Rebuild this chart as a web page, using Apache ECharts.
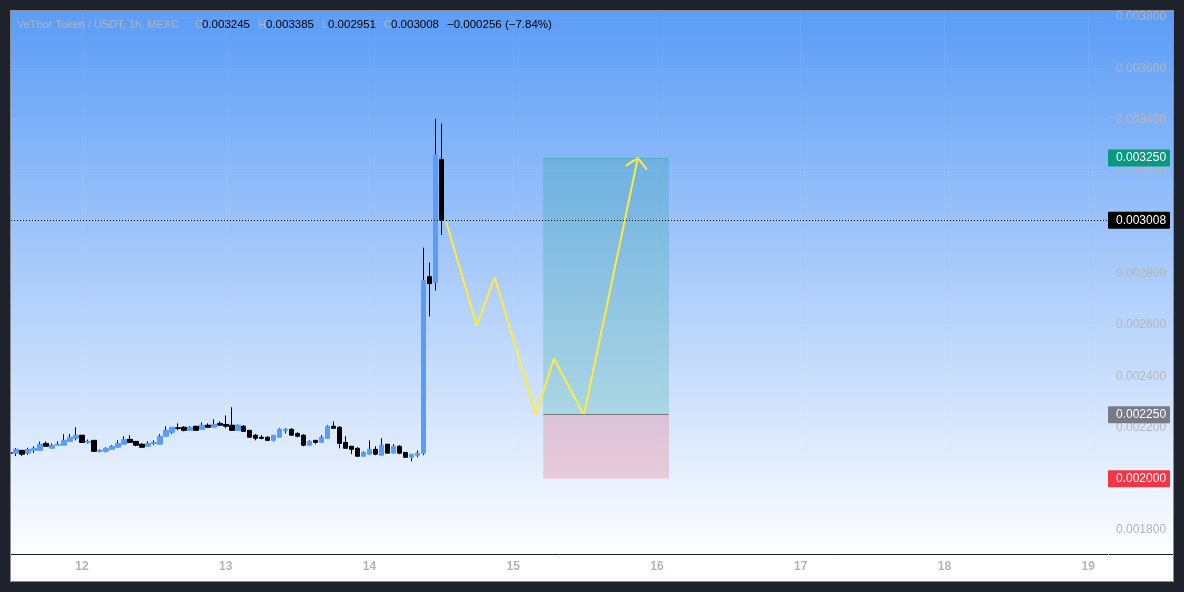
<!DOCTYPE html>
<html>
<head>
<meta charset="utf-8">
<title>VeThor Token / USDT</title>
<style>
    html, body { margin: 0; height: 100%; background: #1e222d; overflow: hidden; }
    #frame { position: absolute; left: 10px; top: 10px; width: 1162px; height: 570px; border: 1px solid #8b8e97; }
    #main { width: 1162px; height: 570px; }
</style>
<script src="https://cdn.jsdelivr.net/npm/echarts@6/dist/echarts.min.js"></script>
</head>
<body>
<div id="frame"><div id="main"></div></div>
<script>
// candles are hourly, hour 0 = start of day 12, first candle at -12
var firstHour = -12;
var opens = [0.002101,0.002100,0.002111,0.002100,0.002111,0.002111,0.002138,0.002119,0.002131,0.002131,0.002146,0.002158,
    0.002170,0.002142,0.002150,0.002107,0.002107,0.002115,0.002123,0.002135,0.002154,0.002146,0.002135,0.002127,
    0.002138,0.002135,0.002166,0.002181,0.002199,0.002201,0.002189,0.002205,0.002193,0.002209,0.002201,0.002216,
    0.002212,0.002209,0.002189,0.002205,0.002189,0.002170,0.002162,0.002162,0.002150,0.002162,0.002189,0.002193,
    0.002177,0.002170,0.002131,0.002150,0.002142,0.002158,0.002205,0.002201,0.002142,0.002127,0.002119,0.002088,
    0.002096,0.002115,0.002092,0.002135,0.002100,0.002127,0.002103,0.002084,0.002092,0.002100,0.002788,0.002765,0.003245];
var closes = [0.002100,0.002115,0.002096,0.002115,0.002119,0.002135,0.002127,0.002131,0.002135,0.002150,0.002162,0.002170,
    0.002142,0.002146,0.002107,0.002111,0.002119,0.002127,0.002138,0.002154,0.002142,0.002131,0.002123,0.002138,
    0.002142,0.002166,0.002189,0.002201,0.002196,0.002189,0.002201,0.002189,0.002209,0.002201,0.002212,0.002209,
    0.002205,0.002189,0.002209,0.002185,0.002162,0.002158,0.002158,0.002150,0.002170,0.002193,0.002193,0.002170,
    0.002166,0.002131,0.002146,0.002142,0.002162,0.002205,0.002197,0.002138,0.002119,0.002115,0.002088,0.002103,
    0.002115,0.002096,0.002131,0.002100,0.002127,0.002100,0.002084,0.002096,0.002100,0.002773,0.002761,0.003263,0.003008];
var lows = [0.002098,0.002089,0.002089,0.002093,0.002101,0.002111,0.002127,0.002119,0.002131,0.002131,0.002146,0.002150,
    0.002142,0.002138,0.002107,0.002103,0.002103,0.002115,0.002123,0.002135,0.002142,0.002127,0.002123,0.002127,
    0.002131,0.002135,0.002166,0.002174,0.002189,0.002185,0.002189,0.002189,0.002193,0.002201,0.002201,0.002209,
    0.002197,0.002189,0.002189,0.002185,0.002162,0.002150,0.002154,0.002150,0.002146,0.002162,0.002177,0.002170,
    0.002162,0.002127,0.002131,0.002135,0.002142,0.002158,0.002197,0.002119,0.002119,0.002096,0.002088,0.002088,
    0.002096,0.002092,0.002092,0.002100,0.002100,0.002096,0.002084,0.002068,0.002084,0.002092,0.002633,0.002734,0.002951];
var highs = [0.002127,0.002120,0.002111,0.002121,0.002127,0.002145,0.002146,0.002138,0.002146,0.002174,0.002174,0.002201,
    0.002170,0.002153,0.002150,0.002115,0.002123,0.002131,0.002150,0.002166,0.002170,0.002146,0.002138,0.002146,
    0.002150,0.002174,0.002205,0.002201,0.002216,0.002205,0.002205,0.002205,0.002220,0.002216,0.002232,0.002224,
    0.002247,0.002279,0.002212,0.002209,0.002189,0.002174,0.002170,0.002166,0.002170,0.002197,0.002197,0.002197,
    0.002181,0.002174,0.002150,0.002150,0.002170,0.002209,0.002224,0.002205,0.002166,0.002127,0.002123,0.002107,
    0.002150,0.002127,0.002158,0.002135,0.002135,0.002131,0.002103,0.002096,0.002111,0.002901,0.002843,0.003403,0.003385];

// drawn path on top of the candles: [hour, price]
var pathLine = [[60.8,0.003002],[65.9,0.002598],[68.9,0.002785],[75.8,0.002251],[78.8,0.002469],[83.8,0.002248],[92.8,0.003251]];
var arrowHead = [[90.8,0.003220],[92.8,0.003251],[94.3,0.003205]];

// long position box
var boxStart = 77, boxEnd = 98;
var targetPrice = 0.003250, entryPrice = 0.002250, stopPrice = 0.002000, lastPrice = 0.003008;

var dayTicks = [0, 24, 48, 72, 96, 120, 144, 168];
var priceTicks = [0.0018, 0.0020, 0.0022, 0.0024, 0.0026, 0.0028, 0.0030, 0.0032, 0.0034, 0.0036, 0.0038];
var xMin = -11.86, xMax = 171.3;

var font = '"Liberation Sans", sans-serif';
var grey = '#b2b5be';

// wicks are black on every candle, so wicks and bodies are two series
var wicks = opens.map(function (o, i) {
    return [firstHour + i, o, closes[i], lows[i], highs[i]];
});
var bodies = opens.map(function (o, i) {
    var c = closes[i];
    return [firstHour + i, o, c, Math.min(o, c), Math.max(o, c)];
});

// header row pieces: text, x, colour, size
var headerTexts = [
    ['VeThor Token / USDT, 1h, MEXC', 6, grey, 11],
    ['O', 184, grey, 11.5], ['0.003245', 191, '#000', 11.5],
    ['H', 247, grey, 11.5], ['0.003385', 255, '#000', 11.5],
    ['L', 311, grey, 11.5], ['0.002951', 317, '#000', 11.5],
    ['C', 373, grey, 11.5], ['0.003008', 380, '#000', 11.5],
    ['\u22120.000256 (\u22127.84%)', 436, '#000', 11.5]
];

function priceTag(value, bg, lineStyle) {
    return [{
        coord: [xMin, value],
        // no opacity here, the label takes it over from the line
        lineStyle: lineStyle || { color: 'transparent', width: 0 },
        label: {
            show: true, position: 'end', distance: 0,
            formatter: value.toFixed(6),
            color: '#fff', backgroundColor: bg, fontFamily: font, fontSize: 12,
            padding: [3, 6, 2, 8], width: 48, lineHeight: 12, borderRadius: 1
        }
    }, { coord: [xMax, value] }];
}

var myChart = echarts.init(document.getElementById('main'));

var option = {
    animation: false,
    backgroundColor: new echarts.graphic.LinearGradient(0, 0, 0, 1, [
        { offset: 0, color: '#5b9cf6' },
        { offset: 0.96, color: '#ffffff' },
        { offset: 1, color: '#ffffff' }
    ]),
    title: headerTexts.map(function (t) {
        return { text: t[0], left: t[1], top: 8, padding: 0, textStyle: { color: t[2], fontFamily: font, fontSize: t[3], fontWeight: 'normal' } };
    }),
    grid: { left: 0, right: 65, top: 0, bottom: 27 },
    xAxis: {
        type: 'value',
        min: xMin,
        max: xMax,
        axisLine: { show: true, onZero: false, lineStyle: { color: '#1e222d', width: 1 } },
        axisTick: { show: false, customValues: dayTicks },
        axisLabel: {
            customValues: dayTicks, color: grey, fontFamily: font, fontSize: 12, fontWeight: 'bold', margin: 7,
            formatter: function (v) { return String(12 + v / 24); }
        },
        splitLine: { show: true, lineStyle: { color: 'rgba(255,255,255,0.06)' } }
    },
    yAxis: {
        type: 'value',
        position: 'right',
        min: 0.001707,
        max: 0.003818,
        axisLine: { show: false },
        axisTick: { show: false, customValues: priceTicks },
        axisLabel: {
            customValues: priceTicks, color: grey, fontFamily: font, fontSize: 12, margin: 8,
            formatter: function (v) { return v.toFixed(6); }
        },
        splitLine: { show: true, lineStyle: { color: 'rgba(255,255,255,0.06)' } }
    },
    graphic: [{
        type: 'line', z: 5,
        shape: { x1: 1098, y1: 543.5, x2: 1162, y2: 543.5 },
        style: { stroke: '#1e222d', lineWidth: 1 }
    }],
    series: [
        {
            name: 'wicks',
            type: 'candlestick',
            z: 2,
            barWidth: 1,
            data: wicks,
            itemStyle: { color: '#000', borderColor: '#000', color0: '#000', borderColor0: '#000', borderWidth: 1 }
        },
        {
            name: 'bodies',
            type: 'candlestick',
            z: 3,
            barWidth: 5,
            data: bodies,
            itemStyle: { color: '#5b9cf6', borderColor: '#5b9cf6', color0: '#000', borderColor0: '#000', borderWidth: 1 }
        },
        {
            type: 'line', z: 6, symbol: 'none', silent: true,
            data: pathLine,
            lineStyle: { color: '#ffeb3b', width: 2 },
            markArea: {
                silent: true,
                z: 1,
                data: [
                    [{ xAxis: boxStart, yAxis: targetPrice, itemStyle: { color: 'rgba(8,153,129,0.2)' } }, { xAxis: boxEnd, yAxis: entryPrice }],
                    [{ xAxis: boxStart, yAxis: entryPrice, itemStyle: { color: 'rgba(242,54,69,0.2)' } }, { xAxis: boxEnd, yAxis: stopPrice }]
                ]
            },
            markLine: {
                silent: true,
                symbol: 'none',
                z: 10,
                data: [
                    priceTag(lastPrice, '#000', { color: '#000', type: [1, 2], width: 1 }),
                    priceTag(targetPrice, '#089981'),
                    priceTag(entryPrice, '#787b86'),
                    priceTag(stopPrice, '#f23645'),
                    [{ coord: [boxStart, entryPrice], lineStyle: { color: '#787b86', type: 'solid', width: 1 }, label: { show: false } }, { coord: [boxEnd, entryPrice] }],
                    [{ coord: [boxStart, targetPrice], lineStyle: { color: 'rgba(8,153,129,0.25)', type: 'solid', width: 1 }, label: { show: false } }, { coord: [boxEnd, targetPrice] }]
                ]
            }
        },
        {
            type: 'line', z: 6, symbol: 'none', silent: true,
            data: arrowHead,
            lineStyle: { color: '#ffeb3b', width: 2 }
        }
    ]
};

myChart.setOption(option);
</script>
</body>
</html>
